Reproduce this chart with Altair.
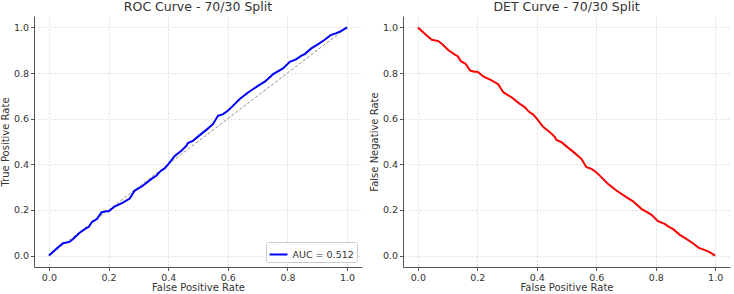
import altair as alt
import pandas as pd

# ROC curve points
fpr = [0.0, 0.03, 0.047, 0.069, 0.083, 0.103, 0.123, 0.134, 0.145, 0.161, 0.176, 0.19,
       0.201, 0.22, 0.248, 0.271, 0.287, 0.315, 0.343, 0.36, 0.374, 0.388, 0.40, 0.422,
       0.444, 0.461, 0.466, 0.483, 0.506, 0.528, 0.55, 0.567, 0.584, 0.60, 0.617, 0.64,
       0.668, 0.701, 0.724, 0.752, 0.785, 0.808, 0.83, 0.847, 0.858, 0.88, 0.903, 0.925,
       0.945, 0.964, 0.981, 1.0]
tpr = [0.0, 0.035, 0.054, 0.06, 0.075, 0.10, 0.118, 0.126, 0.148, 0.16, 0.189, 0.194,
       0.194, 0.215, 0.232, 0.25, 0.284, 0.306, 0.335, 0.35, 0.37, 0.382, 0.40, 0.437,
       0.459, 0.481, 0.493, 0.503, 0.528, 0.551, 0.576, 0.613, 0.62, 0.635, 0.656, 0.686,
       0.715, 0.744, 0.762, 0.795, 0.82, 0.849, 0.861, 0.876, 0.883, 0.908, 0.927, 0.946,
       0.966, 0.975, 0.985, 1.0]
diag = [0.0, 1.0]
auc_label = "AUC = 0.512"
ticks = [0.0, 0.2, 0.4, 0.6, 0.8, 1.0]

roc_df = pd.DataFrame({"fpr": fpr, "tpr": tpr, "series": auc_label, "order": list(range(len(fpr)))})
det_df = pd.DataFrame({"fpr": fpr, "fnr": [1 - t for t in tpr], "order": list(range(len(fpr)))})
diag_df = pd.DataFrame({"x": diag, "y": diag})

FONT = "DejaVu Sans"
W, H = 328, 251
sc = alt.Scale(domain=[-0.05, 1.05], nice=False, zero=False)


def title(t):
    return alt.TitleParams(t, font=FONT, fontSize=12.5, fontWeight="normal", color="#333333", offset=3)


xax = alt.Axis(values=ticks, format=".1f", title="False Positive Rate", titlePadding=1, labelPadding=1.5)

roc_line = alt.Chart(roc_df).mark_line(strokeWidth=2).encode(
    x=alt.X("fpr:Q", scale=sc, axis=xax),
    y=alt.Y("tpr:Q", scale=sc, axis=alt.Axis(values=ticks, format=".1f", title="True Positive Rate")),
    order="order:Q",
    color=alt.Color("series:N", scale=alt.Scale(domain=[auc_label], range=["#0000ff"]),
                    legend=alt.Legend(title=None, orient="bottom-right", offset=5, symbolType="stroke",
                                      symbolStrokeWidth=2, symbolSize=320, labelFontSize=9.5,
                                      labelFont=FONT, labelColor="#333333", fillColor="white",
                                      strokeColor="#cccccc", cornerRadius=2, padding=2.5)),
)
diag_line = alt.Chart(diag_df).mark_line(strokeWidth=0.9, strokeDash=[3, 2], color="#808080").encode(
    x=alt.X("x:Q", scale=sc), y=alt.Y("y:Q", scale=sc)
)
roc = alt.layer(diag_line, roc_line).properties(width=W, height=H, title=title("ROC Curve - 70/30 Split"))

det = alt.Chart(det_df).mark_line(strokeWidth=2, color="#ff0000").encode(
    x=alt.X("fpr:Q", scale=sc, axis=xax),
    y=alt.Y("fnr:Q", scale=sc, axis=alt.Axis(values=ticks, format=".1f", title="False Negative Rate")),
    order="order:Q",
).properties(width=W - 1, height=H, title=title("DET Curve - 70/30 Split"))

chart = alt.hconcat(roc, det, spacing=6).resolve_legend(color="independent").properties(
    padding={"left": 0, "top": 0, "right": 0, "bottom": 0}
).configure_axis(
    domainColor="#555555", domainWidth=1, tickColor="#555555", tickSize=3.5, tickWidth=1,
    labelFont=FONT, labelFontSize=9.5, labelColor="#333333", labelPadding=2,
    titleFont=FONT, titleFontSize=10, titleFontWeight="normal", titleColor="#333333", titlePadding=2.5,
    gridColor="#d4d4d4", gridDash=[2, 2], gridWidth=0.8,
).configure_view(stroke="transparent")

chart.save("out.html", embed_options={"renderer": "svg", "actions": False})
